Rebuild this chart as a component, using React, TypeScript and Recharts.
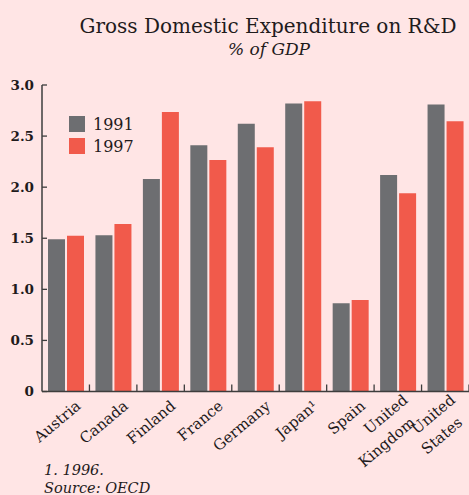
import React from "react";
import { BarChart, Bar, XAxis, YAxis, Legend } from "recharts";

const countries = ["Austria", "Canada", "Finland", "France", "Germany", "Japan¹", "Spain", "United Kingdom", "United States"];
const values1991 = [1.49, 1.53, 2.08, 2.41, 2.62, 2.82, 0.865, 2.12, 2.81];
const values1997 = [1.525, 1.64, 2.735, 2.265, 2.39, 2.84, 0.895, 1.94, 2.645];
const yTicks = [0, 0.5, 1.0, 1.5, 2.0, 2.5, 3.0];
const seriesNames = ["1991", "1997"];

const data = countries.map((c, i) => ({ country: c, y1991: values1991[i], y1997: values1997[i] }));

const BG = "#ffe5e5";
const GRAY = "#6d6e71";
const RED = "#f15a4b";
const INK = "#1f1b1c";
const AXIS = "#3d3d3d";
const SERIF = "'DejaVu Serif', serif";

const YTick = (props: any) => {
  const { x, y, payload } = props;
  const v = payload.value;
  const label = v === 0 ? "0" : v.toFixed(1);
  return (
    <g>
      <line x1={x} x2={x + 5} y1={y} y2={y} stroke={AXIS} strokeWidth={1.3} />
      <text x={x - 8} y={y} dy="0.36em" textAnchor="end" fontFamily={SERIF} fontWeight="bold" fontSize={13.5} fill={INK}>
        {label}
      </text>
    </g>
  );
};

const XTick = (props: any) => {
  const { x, y, payload } = props;
  const off = payload && typeof payload.offset === "number" ? payload.offset : 0;
  const words = String(payload.value).split(" ");
  const lines = words.length > 1 ? [words[0], words.slice(1).join(" ")] : words;
  const multi = lines.length > 1;
  const tx = x + (multi ? 11 : 16);
  const ty = y + (multi ? 10 : 16);
  return (
    <g>
      {off > 0 && <line x1={x + off} x2={x + off} y1={y - 7} y2={y} stroke={AXIS} strokeWidth={1.3} />}
      <text x={tx} y={ty} textAnchor="end" transform={`rotate(-40, ${tx}, ${ty})`} fontFamily={SERIF} fontSize={15} fill={INK}>
        {lines.map((l, i) => (
          <tspan key={i} x={i === 0 ? tx : tx - 9} dy={i === 0 ? 0 : 22}>
            {l}
          </tspan>
        ))}
      </text>
    </g>
  );
};

const LegendContent = (props: any) => {
  const { payload } = props;
  return (
    <div style={{ display: "flex", flexDirection: "column", gap: 6 }}>
      {(payload || []).map((p: any, i: number) => (
        <div key={i} style={{ display: "flex", alignItems: "center", height: 16 }}>
          <div style={{ width: 16, height: 16, background: p.color, marginRight: 8 }} />
          <span style={{ fontFamily: SERIF, fontSize: 16, color: INK, lineHeight: "16px", position: "relative", top: 1 }}>{p.value}</span>
        </div>
      ))}
    </div>
  );
};

export default function App() {
  return (
    <div style={{ position: "absolute", left: 0, top: 0, width: 469, height: 495, background: BG, overflow: "hidden" }}>
      <BarChart width={469} height={495} data={data} margin={{ top: 85, right: 0, bottom: 0, left: 0 }} barSize={17} barGap={2}>
        <XAxis
          dataKey="country"
          height={103.5}
          interval={0}
          tickSize={0}
          tickMargin={0}
          tickLine={false}
          axisLine={{ stroke: AXIS, strokeWidth: 1.5 }}
          tick={<XTick />}
        />
        <YAxis
          width={42}
          domain={[0, 3]}
          ticks={yTicks}
          tickSize={0}
          tickMargin={0}
          tickLine={false}
          axisLine={{ stroke: AXIS, strokeWidth: 1.5 }}
          tick={<YTick />}
        />
        <Legend
          layout="vertical"
          align="center"
          verticalAlign="middle"
          content={<LegendContent />}
          wrapperStyle={{ left: 69, top: 116, width: 100, height: 40 }}
        />
        <Bar dataKey="y1991" name={seriesNames[0]} fill={GRAY} isAnimationActive={false} />
        <Bar dataKey="y1997" name={seriesNames[1]} fill={RED} isAnimationActive={false} />
      </BarChart>
      <svg width={469} height={495} style={{ position: "absolute", left: 0, top: 0, pointerEvents: "none" }}>
        <text x={268} y={33} textAnchor="middle" fontFamily={SERIF} fontSize={20} fill={INK}>
          Gross Domestic Expenditure on R&amp;D
        </text>
        <text x={269} y={55} textAnchor="middle" fontFamily={SERIF} fontStyle="italic" fontSize={17} fill={INK}>
          % of GDP
        </text>
        <text x={44} y={475} fontFamily={SERIF} fontStyle="italic" fontSize={14.5} fill={INK}>
          1. 1996.
        </text>
        <text x={44} y={493} fontFamily={SERIF} fontStyle="italic" fontSize={14.5} fill={INK}>
          Source: OECD
        </text>
      </svg>
    </div>
  );
}
